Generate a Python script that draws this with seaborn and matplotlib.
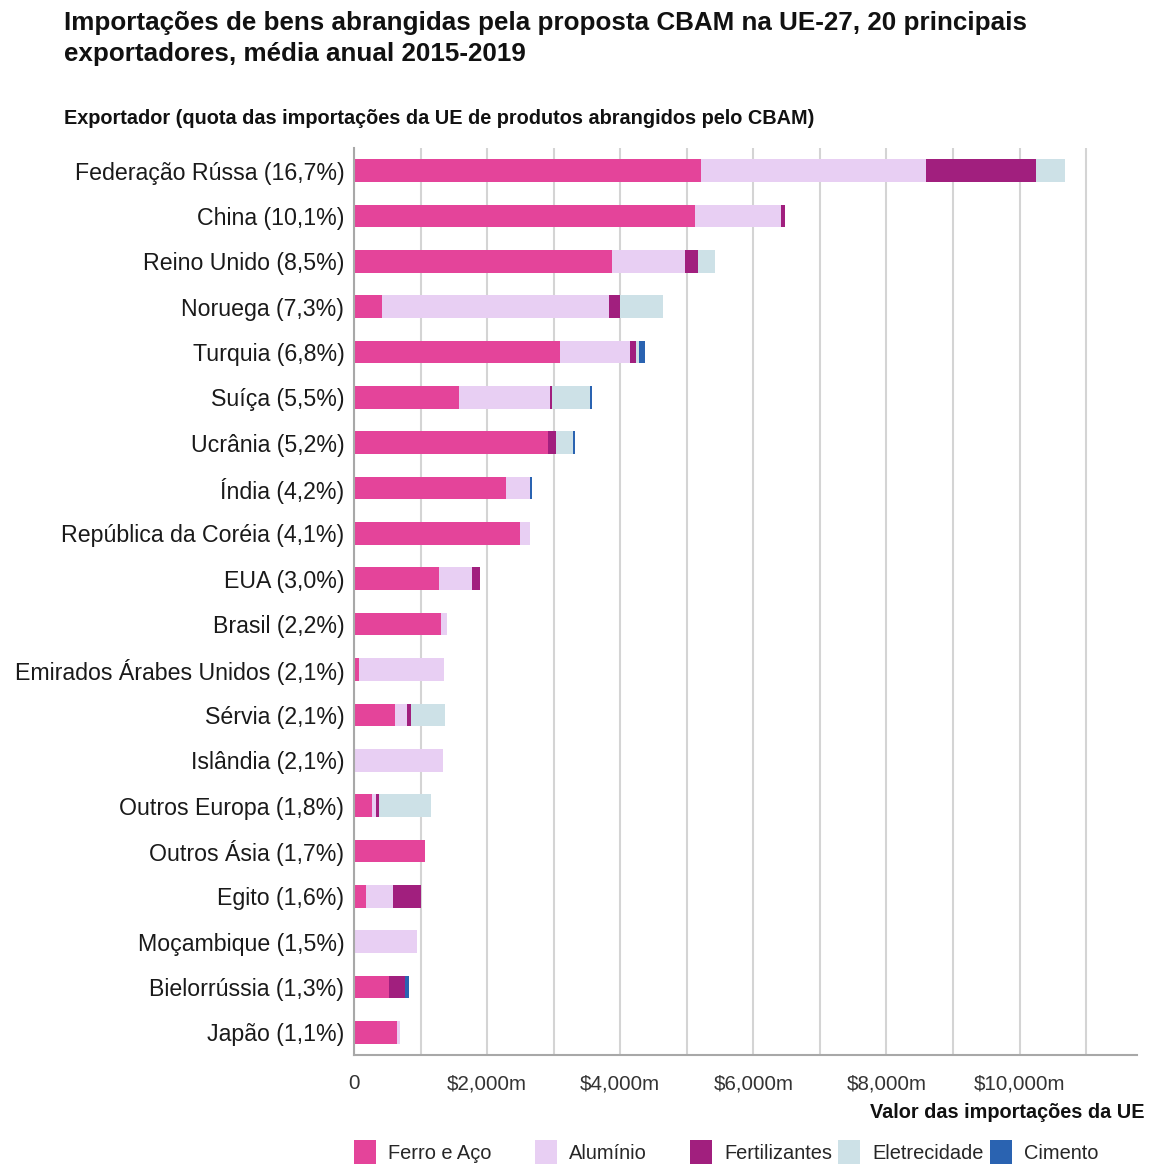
import matplotlib
matplotlib.use("Agg")
import matplotlib.pyplot as plt
from matplotlib.patches import Patch
import numpy as np
import pandas as pd
import seaborn as sns

# Exportadores e valores (milhões de USD)
exportadores = ["Federação Rússa (16,7%)", "China (10,1%)", "Reino Unido (8,5%)",
                "Noruega (7,3%)", "Turquia (6,8%)", "Suíça (5,5%)", "Ucrânia (5,2%)",
                "Índia (4,2%)", "República da Coréia (4,1%)", "EUA (3,0%)",
                "Brasil (2,2%)", "Emirados Árabes Unidos (2,1%)", "Sérvia (2,1%)",
                "Islândia (2,1%)", "Outros Europa (1,8%)", "Outros Ásia (1,7%)",
                "Egito (1,6%)", "Moçambique (1,5%)", "Bielorrússia (1,3%)", "Japão (1,1%)"]
ferro_aco = [5220, 5130, 3880, 420, 3090, 1570, 2920, 2280, 2490, 1270,
             1310, 70, 620, 0, 270, 1060, 180, 0, 530, 640]
aluminio = [3380, 1280, 1100, 3410, 1060, 1370, 0, 360, 150, 500,
            80, 1280, 170, 1330, 60, 0, 400, 940, 0, 50]
fertilizantes = [1650, 70, 190, 170, 90, 30, 110, 0, 0, 130,
                 0, 0, 70, 0, 40, 0, 420, 0, 240, 0]
eletricidade = [440, 0, 260, 640, 40, 570, 260, 0, 0, 0,
                0, 0, 500, 0, 790, 0, 0, 0, 0, 0]
cimento = [0, 0, 0, 0, 90, 30, 30, 30, 0, 0,
           0, 0, 0, 0, 0, 0, 0, 0, 50, 0]

categorias = ["Ferro e Aço", "Alumínio", "Fertilizantes", "Eletrecidade", "Cimento"]
cores = ["#E4449A", "#E8CFF3", "#A11F7E", "#CDE1E7", "#2A63B1"]

df = pd.DataFrame({"exportador": exportadores, "Ferro e Aço": ferro_aco,
                   "Alumínio": aluminio, "Fertilizantes": fertilizantes,
                   "Eletrecidade": eletricidade, "Cimento": cimento})
cum = df[categorias].cumsum(axis=1)

sns.set_theme(style="white")
plt.rcParams["font.family"] = ["Liberation Sans", "DejaVu Sans"]

fig = plt.figure(figsize=(11.57, 11.64), dpi=100)
ax = fig.add_axes([0.306, 0.0936, 0.677, 0.7794])

# barras empilhadas: desenha do total acumulado para o primeiro
for cat, cor in reversed(list(zip(categorias, cores))):
    sns.barplot(x=cum[cat], y=df["exportador"], color=cor, width=0.5,
                orient="h", ax=ax, linewidth=0, saturation=1)

ax.set_xlim(0, 11770)
ax.set_ylim(19.5, -0.5)
ax.set_xticks([0, 2000, 4000, 6000, 8000, 10000])
ax.set_xticklabels(["0", "$2,000m", "$4,000m", "$6,000m", "$8,000m", "$10,000m"],
                   fontsize=14.8, color="#333333")
ax.set_xticks(np.arange(1000, 12000, 1000), minor=True)
ax.grid(axis="x", which="both", color="#D4D4D4", linewidth=1.5, zorder=0)
ax.set_axisbelow(True)
ax.tick_params(axis="y", labelsize=16.7, length=0, pad=7, labelcolor="#1a1a1a")
ax.tick_params(axis="x", which="both", length=0, pad=14)
ax.set_xlabel("")
ax.set_ylabel("")
for s in ["top", "right"]:
    ax.spines[s].set_visible(False)
for s in ["left", "bottom"]:
    ax.spines[s].set_color("#A8A8A8")
    ax.spines[s].set_linewidth(1.5)

fig.text(64 / 1157, 1 - 11 / 1164,
         "Importações de bens abrangidas pela proposta CBAM na UE-27, 20 principais\n"
         "exportadores, média anual 2015-2019",
         fontsize=18.7, fontweight="bold", va="top", ha="left", linespacing=1.36,
         color="#111111")
fig.text(64 / 1157, 1 - 118 / 1164,
         "Exportador (quota das importações da UE de produtos abrangidos pelo CBAM)",
         fontsize=14.3, fontweight="bold", va="center", ha="left", color="#111111")
fig.text(1145 / 1157, 1 - 1112 / 1164, "Valor das importações da UE",
         fontsize=14.3, fontweight="bold", va="center", ha="right", color="#111111")

# legenda: uma entrada por posição
leg_x = [354, 535, 690, 838, 990]
for cat, cor, x in zip(categorias, cores, leg_x):
    fig.legend([Patch(facecolor=cor, edgecolor="none")], [cat], loc="center left",
               bbox_to_anchor=(x / 1157, 1 - 1152 / 1164), frameon=False,
               fontsize=14.4, handlelength=1.1, handleheight=1.5, handletextpad=0.6,
               borderpad=0, borderaxespad=0)

fig.savefig("out.png", dpi=100)
